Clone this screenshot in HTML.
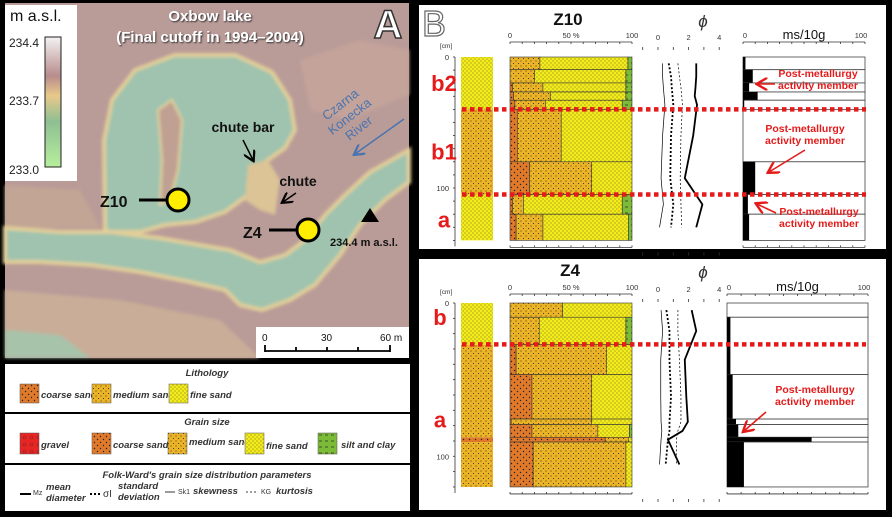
<!DOCTYPE html>
<html><head><meta charset="utf-8">
<style>
html,body{margin:0;padding:0;background:#000;}
svg{display:block;}
text{font-family:"Liberation Sans",sans-serif;}
</style></head>
<body>
<svg id="fig" width="892" height="517" viewBox="0 0 892 517" xmlns="http://www.w3.org/2000/svg">
<defs>
<pattern id="pFine" width="4" height="4" patternUnits="userSpaceOnUse"><rect width="4" height="4" fill="#f4ec1a"/><circle cx="1" cy="1" r="0.45" fill="#333"/><circle cx="3" cy="3" r="0.45" fill="#333"/></pattern>
<pattern id="pMed" width="5" height="5" patternUnits="userSpaceOnUse"><rect width="5" height="5" fill="#ebb326"/><circle cx="1" cy="1" r="0.55" fill="#222"/><circle cx="3.5" cy="3.5" r="0.55" fill="#222"/></pattern>
<pattern id="pCoarse" width="6" height="6" patternUnits="userSpaceOnUse"><rect width="6" height="6" fill="#e07a2a"/><circle cx="1.5" cy="1.5" r="0.7" fill="#222"/><circle cx="4.5" cy="4.5" r="0.7" fill="#222"/></pattern>
<pattern id="pSilt" width="6" height="6" patternUnits="userSpaceOnUse"><rect width="6" height="6" fill="#7cbb38"/><line x1="1" y1="3" x2="4" y2="3" stroke="#222" stroke-width="0.7"/></pattern>
<pattern id="pGravel" width="7" height="7" patternUnits="userSpaceOnUse"><rect width="7" height="7" fill="#e82525"/><circle cx="3.5" cy="3.5" r="1.5" fill="none" stroke="#822" stroke-width="0.6"/></pattern>
<linearGradient id="cbar" x1="0" y1="0" x2="0" y2="1">
<stop offset="0" stop-color="#f4f2f2"/><stop offset="0.3" stop-color="#b88c8c"/><stop offset="0.45" stop-color="#e9c98a"/><stop offset="0.65" stop-color="#8fbf92"/><stop offset="1" stop-color="#b6ef9d"/></linearGradient>
<filter id="soft"><feGaussianBlur stdDeviation="1.6"/></filter>
<filter id="shadow"><feDropShadow dx="1" dy="1" stdDeviation="0.8" flood-color="#333"/></filter>
<marker id="ah" markerWidth="8" markerHeight="8" refX="6" refY="4" orient="auto"><path d="M0,0 L7,4 L0,8" fill="none" stroke="#000" stroke-width="1.5"/></marker>
<marker id="ahb" markerWidth="8" markerHeight="8" refX="6" refY="4" orient="auto"><path d="M0,0 L7,4 L0,8" fill="none" stroke="#4a74b0" stroke-width="1.5"/></marker>
<marker id="ahr" markerWidth="8" markerHeight="8" refX="6" refY="4" orient="auto"><path d="M0,0 L7,4 L0,8" fill="none" stroke="#e51b1b" stroke-width="1.5"/></marker>
</defs>

<!-- MAP -->
<g>
<rect x="5" y="3" width="404" height="355" fill="#b99b98"/>
<g filter="url(#soft)">
<path d="M5,290 L120,300 L220,320 L260,358 L5,358Z" fill="#c9ad98"/>
<path d="M5,185 L80,190 L100,228 L5,228Z" fill="#c2a594"/>
<path d="M105,230 L104,140 L112,100 L135,70 L175,55 L235,55 L272,72 L290,100 L295,130 L285,148 L268,160 L255,170 L248,195 L225,212 L195,222 L165,225 L140,232 L110,232Z" fill="#9fc3ae" stroke="#e2cf98" stroke-width="4"/>
<path d="M158,110 L172,100 L182,120 L178,170 L170,200 L160,205 L162,160Z" fill="#bfa092" stroke="#e6d39a" stroke-width="2"/>
<path d="M248,165 L268,160 L280,180 L275,215 L260,210 L245,200Z" fill="#dcc496"/>
<path d="M5,228 L60,232 L110,232 L160,238 L200,245 L230,250 L260,262 L285,255 L305,240 L325,215 L345,195 L370,172 L395,158 L409,150 L409,182 L385,200 L360,225 L340,255 L315,285 L290,300 L262,310 L240,305 L225,290 L190,282 L140,272 L90,265 L40,262 L5,262Z" fill="#9fc3ae" stroke="#e2cf98" stroke-width="4"/>
<path d="M5,330 L60,335 L90,358 L5,358Z" fill="#a7c3aa"/>
<path d="M300,60 L360,40 L409,50 L409,95 L350,120 L310,110Z" fill="#c3a39a"/>
</g>
<rect x="5" y="5" width="72" height="176" fill="#fff"/>
<text x="10" y="21" font-size="16" fill="#111">m a.s.l.</text>
<rect x="45" y="37" width="16" height="130" fill="url(#cbar)" stroke="#222" stroke-width="1"/>
<text x="9" y="47" font-size="12" fill="#222">234.4</text>
<text x="9" y="105" font-size="12" fill="#222">233.7</text>
<text x="9" y="174" font-size="12" fill="#222">233.0</text>
<g font-weight="bold" font-size="15" fill="#fff" text-anchor="middle" filter="url(#shadow)">
<text x="210" y="21">Oxbow lake</text><text x="210" y="42">(Final cutoff in 1994–2004)</text></g>
<text x="388" y="38" font-size="40" font-weight="bold" fill="#fff" stroke="#333" stroke-width="1.5" text-anchor="middle">A</text>
<text x="243" y="132" font-size="14" font-weight="bold" text-anchor="middle" fill="#111">chute bar</text>
<line x1="243" y1="140" x2="253" y2="160" stroke="#000" stroke-width="1.5" marker-end="url(#ah)"/>
<text x="298" y="186" font-size="14" font-weight="bold" text-anchor="middle" fill="#111">chute</text>
<line x1="296" y1="193" x2="283" y2="202" stroke="#000" stroke-width="1.5" marker-end="url(#ah)"/>
<text transform="translate(343,108) rotate(-38)" font-size="13" fill="#4a74b0" text-anchor="middle"><tspan x="0" y="0">Czarna</tspan><tspan x="0" y="15">Konecka</tspan><tspan x="0" y="30">River</tspan></text>
<line x1="404" y1="119" x2="355" y2="154" stroke="#4a74b0" stroke-width="1.5" marker-end="url(#ahb)"/>
<text x="100" y="207" font-size="16" font-weight="bold" fill="#111">Z10</text>
<line x1="139" y1="200" x2="166" y2="200" stroke="#000" stroke-width="3"/>
<circle cx="178" cy="200" r="11" fill="#ffee00" stroke="#000" stroke-width="3"/>
<text x="243" y="238" font-size="16" font-weight="bold" fill="#111">Z4</text>
<line x1="269" y1="230" x2="296" y2="230" stroke="#000" stroke-width="3"/>
<circle cx="308" cy="230" r="11" fill="#ffee00" stroke="#000" stroke-width="3"/>
<path d="M370,208 L361,222 L379,222Z" fill="#000"/>
<text x="330" y="246" font-size="11" font-weight="bold" fill="#111">234.4 m a.s.l.</text>
<rect x="256" y="327" width="153" height="31" fill="#fff"/>
<g font-size="10" fill="#111">
<text x="262" y="341">0</text><text x="321" y="341">30</text><text x="380" y="341">60 m</text>
<path d="M265,351 L390,351 M265,345 L265,352 M296,347 L296,351 M327,347 L327,351 M358,347 L358,351 M390,345 L390,352" stroke="#000" stroke-width="1.8"/></g>
</g>

<!-- LEGEND -->
<g font-size="9.5" font-style="italic" font-weight="bold" fill="#333">
<rect x="5" y="364" width="405" height="48" fill="#fff"/>
<rect x="5" y="414" width="405" height="49" fill="#fff"/>
<rect x="5" y="465" width="405" height="46" fill="#fff"/>
<text x="207" y="376" text-anchor="middle">Lithology</text>
<g><rect x="20" y="384" width="19" height="19" fill="url(#pCoarse)" stroke="#555" stroke-width="0.5"/><text x="41" y="398">coarse sand</text></g>
<g><rect x="92" y="384" width="19" height="19" fill="url(#pMed)" stroke="#555" stroke-width="0.5"/><text x="113" y="398">medium sand</text></g>
<g><rect x="169" y="384" width="19" height="19" fill="url(#pFine)" stroke="#555" stroke-width="0.5"/><text x="190" y="398">fine sand</text></g>
<text x="207" y="425" text-anchor="middle">Grain size</text>
<g><rect x="20" y="433" width="19" height="21" fill="url(#pGravel)" stroke="#555" stroke-width="0.5"/><text x="41" y="448">gravel</text></g>
<g><rect x="92" y="433" width="19" height="21" fill="url(#pCoarse)" stroke="#555" stroke-width="0.5"/><text x="113" y="448">coarse sand</text></g>
<g><rect x="168" y="433" width="19" height="21" fill="url(#pMed)" stroke="#555" stroke-width="0.5"/><text x="189" y="445">medium sand</text></g>
<g><rect x="245" y="433" width="19" height="21" fill="url(#pFine)" stroke="#555" stroke-width="0.5"/><text x="266" y="449">fine sand</text></g>
<g><rect x="318" y="433" width="19" height="21" fill="url(#pSilt)" stroke="#555" stroke-width="0.5"/><text x="341" y="448">silt and clay</text></g>
<text x="207" y="478" text-anchor="middle">Folk-Ward's grain size distribution parameters</text>
<g><line x1="20" y1="494" x2="31" y2="494" stroke="#000" stroke-width="2"/><text x="33" y="495" font-style="normal" font-weight="normal" font-size="7">Mz</text><text x="46" y="490">mean</text><text x="46" y="501">diameter</text></g>
<g><line x1="90" y1="494" x2="101" y2="494" stroke="#000" stroke-width="2" stroke-dasharray="2,2"/><text x="103" y="497" font-style="normal" font-weight="normal" font-size="10">σI</text><text x="118" y="489">standard</text><text x="118" y="500">deviation</text></g>
<g><line x1="165" y1="492" x2="175" y2="492" stroke="#000" stroke-width="0.8"/><text x="178" y="494" font-style="normal" font-weight="normal" font-size="7">Sk1</text><text x="193" y="494">skewness</text></g>
<g><line x1="246" y1="492" x2="258" y2="492" stroke="#000" stroke-width="0.8" stroke-dasharray="2,2"/><text x="261" y="494" font-style="normal" font-weight="normal" font-size="7">KG</text><text x="276" y="494">kurtosis</text></g>
</g>

<!-- PANEL B -->
<rect x="419" y="5" width="467" height="244" fill="#fff"/>
<rect x="419" y="259" width="467" height="251" fill="#fff"/>
<text x="434" y="36" font-size="36" fill="#fff" stroke="#666" stroke-width="1.2" text-anchor="middle">B</text>
<g id="logs"></g>
</svg>
<script>
// ---------- Z10 data ----------
const z10Tops = [0, 9.7, 19.8, 26.7, 33, 40, 80, 105, 120];
const z10Bottoms = [9.7, 19.8, 26.7, 33, 40, 80, 105, 120, 140];
const z10Coarse = [0, 0, 2, 3, 4, 6, 16, 2, 5];
const z10Medium = [24.5, 20, 25, 30, 25, 36, 51, 9, 22];
const z10Fine = [72.2, 75, 68, 62, 63, 58, 33, 81, 70];
const z10Mz = [2.5, 2.5, 2.45, 2.4, 2.55, 2.3, 1.75, 2.9, 2.5];
const z10Sd = [0.7, 0.85, 0.9, 0.95, 1.0, 0.85, 0.8, 1.0, 0.85];
const z10Sk = [0.3, 0.3, 0.35, 0.4, 0.45, 0.3, 0.2, 0.35, 0.1];
const z10Kg = [1.3, 1.4, 1.5, 1.55, 1.6, 1.5, 1.45, 1.5, 1.55];
const z10Ms = [2, 8, 5, 12, 1, 0, 10, 4, 5];
const z10LithTops = [0, 40, 105];
const z10LithBottoms = [40, 105, 140];
const z10LithType = ["fine", "medium", "fine"];
const z10Units = ["b2", "b1", "a"];
const z10UnitDepths = [20, 72, 124];
const z10Boundaries = [40, 105];
// ---------- Z4 data ----------
const z4Tops = [0, 9.3, 27.2, 46.7, 75.7, 79.3, 87.6, 90.7];
const z4Bottoms = [9.3, 27.2, 46.7, 75.7, 79.3, 87.6, 90.7, 120];
const z4Coarse = [0, 0, 5, 18, 1, 18, 78, 19];
const z4Medium = [43, 24, 74, 49, 66, 54, 19, 76];
const z4Fine = [57, 71, 21, 33, 33, 26, 3, 5];
const z4Mz = [2.2, 2.5, 1.75, 1.85, 1.95, 1.6, 0.65, 1.4];
const z4Sd = [0.55, 0.75, 0.75, 0.85, 0.75, 0.75, 0.65, 0.5];
const z4Sk = [0.2, 0.3, 0.18, 0.18, 0.2, 0.25, 0.2, 0.1];
const z4Kg = [1.3, 1.3, 1.4, 1.5, 1.5, 1.3, 1.2, 1.2];
const z4MsTops = [0, 9.3, 46.7, 75.7, 79.3, 87.6, 90.7];
const z4MsBottoms = [9.3, 46.7, 75.7, 79.3, 87.6, 90.7, 120];
const z4Ms = [0, 2.4, 4, 6.4, 8, 60, 12];
const z4LithTops = [0, 27.2, 87.6, 90.7];
const z4LithBottoms = [27.2, 87.6, 90.7, 120];
const z4LithType = ["fine", "medium", "coarse", "medium"];
const z4Units = ["b", "a"];
const z4UnitDepths = [9, 76];
const z4Boundaries = [27];
const phiTicks = [0, 2, 4];
const pctTicks = ["0", "50  %", "100"];
const msTickLabels = ["0", "100"];

const NS = "http://www.w3.org/2000/svg";
const root = document.getElementById("logs");
const fills = {fine: "url(#pFine)", medium: "url(#pMed)", coarse: "url(#pCoarse)", silt: "url(#pSilt)"};
function mk(tag, attrs, parent) {
  const e = document.createElementNS(NS, tag);
  for (const k in attrs) e.setAttribute(k, attrs[k]);
  (parent || root).appendChild(e);
  return e;
}
function txt(x, y, s, size, extra, parent) {
  const t = mk("text", Object.assign({x: x, y: y, "font-size": size}, extra || {}), parent);
  t.textContent = s;
  return t;
}
const GX0 = 510, GX1 = 632, LX0 = 461, LX1 = 493;
const phiX = v => 658 + v * 15.3;

function drawLog(cfg) {
  const g = mk("g", {});
  
  
  const y = d => cfg.y0 + d * cfg.k;
  const gx = p => GX0 + p / 100 * (GX1 - GX0);
  const mx = p => cfg.ms0 + p / 100 * (cfg.ms1 - cfg.ms0);
  const bottom = y(cfg.maxD);
  const tt = txt(cfg.titleX, cfg.titleY, cfg.name.toUpperCase(), 17, {"font-weight": "bold", "text-anchor": "middle", fill: "#111"}, g);
  
  
  const ph = txt(703, cfg.titleY + 2, "ϕ", 17, {"text-anchor": "middle", fill: "#333", "font-style": "italic"}, g);
  
  
  const ms = txt((cfg.ms0 + cfg.ms1) / 2, cfg.axY - 3, "ms/10g", 13, {"text-anchor": "middle", fill: "#111"}, g);
  
  
  const da = mk("g", {stroke: "#333", "stroke-width": 0.8}, g);
  
  
  mk("line", {x1: 455, y1: y(0), x2: 455, y2: bottom + 6}, da);
  for (let d = 0; d <= cfg.maxD; d += 10) mk("line", {x1: 453, y1: y(d), x2: 455, y2: y(d)}, da);
  txt(449, y(0) + 3, "0", 7.5, {"text-anchor": "end", fill: "#333", stroke: "none"}, g);
  txt(449, y(100) + 3, "100", 7.5, {"text-anchor": "end", fill: "#333", stroke: "none"}, g);
  txt(440, y(0) - 9, "[cm]", 6.5, {fill: "#333"}, g);
  [cfg.axY, bottom + 7].forEach((ay, i) => {
    const a = mk("g", {stroke: "#333", "stroke-width": 0.8}, g);
    
    
    mk("line", {x1: GX0, y1: ay, x2: GX1, y2: ay}, a);
    for (let p = 0; p <= 100; p += 10) mk("line", {x1: gx(p), y1: ay, x2: gx(p), y2: ay + (i ? -2 : 2)}, a);
    mk("line", {x1: cfg.ms0, y1: ay, x2: cfg.ms1, y2: ay}, a);
    for (let p = 0; p <= 100; p += 10) mk("line", {x1: mx(p), y1: ay, x2: mx(p), y2: ay + (i ? -2 : 2)}, a);
    for (let v = -1; v <= 4; v++) mk("line", {x1: phiX(v), y1: ay + 5, x2: phiX(v), y2: ay + 8}, a);
  });
  pctTicks.forEach((s, i) => txt(gx(i * 50), cfg.axY - 4, s, 7.5, {"text-anchor": "middle", fill: "#333"}, g));
  phiTicks.forEach(v => txt(phiX(v), cfg.axY - 2, String(v), 7.5, {"text-anchor": "middle", fill: "#333"}, g));
  msTickLabels.forEach((s, i) => txt(i ? cfg.ms1 - 4 : cfg.ms0 + 2, cfg.axY - 4, s, 7.5, {"text-anchor": "middle", fill: "#333"}, g));
  cfg.lithTops.forEach((t, i) => {
    const r = mk("rect", {x: LX0, y: y(t), width: LX1 - LX0, height: y(cfg.lithBottoms[i]) - y(t), fill: fills[cfg.lithType[i]]}, g);
    
    
  });
  cfg.tops.forEach((t, i) => {
    const y1 = y(t), h = y(cfg.bottoms[i]) - y1;
    const c = cfg.coarse[i], m = cfg.medium[i], f = cfg.fine[i];
    const parts = [["coarse", 0, c], ["medium", c, c + m], ["fine", c + m, c + m + f], ["silt", c + m + f, 100]];
    parts.forEach(p => {
      if (p[2] - p[1] <= 0.1) return;
      const r = mk("rect", {x: gx(p[1]), y: y1, width: gx(p[2]) - gx(p[1]), height: h, fill: fills[p[0]], stroke: "#333", "stroke-width": 0.6}, g);
      
      
    });
  });
  const mids = cfg.tops.map((t, i) => (t + cfg.bottoms[i]) / 2);
  const curve = (vals, w, dash, nm) => {
    const pts = vals.map((v, i) => phiX(v) + "," + y(mids[i])).join(" ");
    const pl = mk("polyline", {points: pts, fill: "none", stroke: "#000", "stroke-width": w, "stroke-dasharray": dash}, g);
    
    
  };
  curve(cfg.mz, 1.8, "none", "mean-diameter-line");
  curve(cfg.sd, 1.8, "2,2", "std-deviation-line");
  curve(cfg.sk, 0.7, "none", "skewness-line");
  curve(cfg.kg, 0.7, "2,2", "kurtosis-line");
  cfg.msTops.forEach((t, i) => {
    const y1 = y(t), h = y(cfg.msBottoms[i]) - y1;
    const b = mk("rect", {x: cfg.ms0, y: y1, width: cfg.ms1 - cfg.ms0, height: h, fill: "#fff", stroke: "#444", "stroke-width": 0.8}, g);
    
    
    const r = mk("rect", {x: cfg.ms0, y: y1, width: mx(cfg.ms[i]) - cfg.ms0, height: h, fill: "#000"}, g);
    
    
  });
  cfg.units.forEach((u, i) => {
    const l = txt(cfg.unitX, y(cfg.unitDepths[i]) + 8, u, 22, {"font-weight": "bold", fill: "#e51b1b", "text-anchor": "middle"}, g);
    
    
  });
  cfg.boundaries.forEach(d => {
    const l = mk("line", {x1: 462, y1: y(d), x2: 866, y2: y(d), stroke: "#e51b1b", "stroke-width": 4.5, "stroke-dasharray": "4.5,3.5"}, g);
    
    
  });
  cfg.notes.forEach(n => {
    const t = txt(n[0], n[1], "Post-metallurgy", 10.5, {"font-weight": "bold", fill: "#e51b1b", "text-anchor": "middle"}, g);
    
    
    txt(n[0], n[1] + 12, "activity member", 10.5, {"font-weight": "bold", fill: "#e51b1b", "text-anchor": "middle"}, g);
    const a = mk("line", {x1: n[2], y1: n[3], x2: n[4], y2: n[5], stroke: "#e51b1b", "stroke-width": 1.6, "marker-end": "url(#ahr)"}, g);
    
    
  });
}

drawLog({name: "z10", y0: 57, k: 1.31, maxD: 140, axY: 42, titleX: 568, titleY: 25, ms0: 743, ms1: 865, unitX: 444,
  tops: z10Tops, bottoms: z10Bottoms, coarse: z10Coarse, medium: z10Medium, fine: z10Fine,
  mz: z10Mz, sd: z10Sd, sk: z10Sk, kg: z10Kg, msTops: z10Tops, msBottoms: z10Bottoms, ms: z10Ms,
  lithTops: z10LithTops, lithBottoms: z10LithBottoms, lithType: z10LithType,
  units: z10Units, unitDepths: z10UnitDepths, boundaries: z10Boundaries,
  notes: [[818, 77, 775, 84, 758, 84], [805, 132, 805, 150, 769, 172], [819, 215, 776, 213, 757, 204]]});
drawLog({name: "z4", y0: 303, k: 1.533, maxD: 120, axY: 294, titleX: 570, titleY: 276, ms0: 727, ms1: 868, unitX: 440,
  tops: z4Tops, bottoms: z4Bottoms, coarse: z4Coarse, medium: z4Medium, fine: z4Fine,
  mz: z4Mz, sd: z4Sd, sk: z4Sk, kg: z4Kg, msTops: z4MsTops, msBottoms: z4MsBottoms, ms: z4Ms,
  lithTops: z4LithTops, lithBottoms: z4LithBottoms, lithType: z4LithType,
  units: z4Units, unitDepths: z4UnitDepths, boundaries: z4Boundaries,
  notes: [[815, 393, 766, 412, 744, 431]]});
</script>
</body></html>
